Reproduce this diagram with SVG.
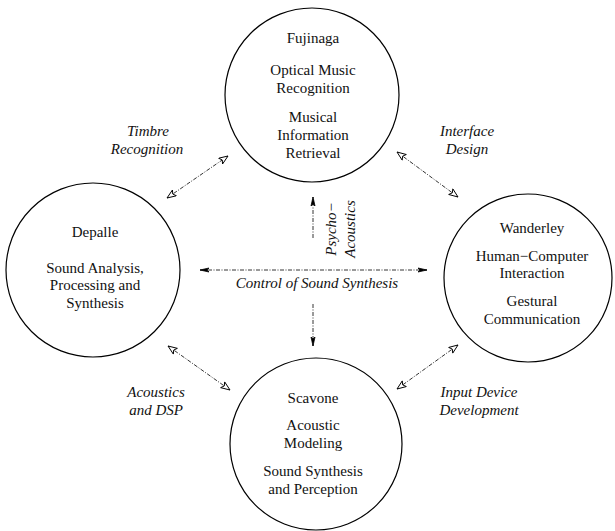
<svg xmlns="http://www.w3.org/2000/svg" width="615" height="531" viewBox="0 0 615 531">
<style>
.node{fill:none;stroke:#000;stroke-width:1.2}
.t{font-size:15px;fill:#111;text-anchor:middle}
.i{font-style:italic}
.c{fill:none;stroke:#000;stroke-width:0.8;stroke-dasharray:4 1.5 1 1.5}
</style>
<defs>
<marker id="oa" markerUnits="userSpaceOnUse" markerWidth="12" markerHeight="10" refX="10" refY="4" orient="auto-start-reverse">
<path d="M1,0.5 L10,4 L1,7.5 L3,4 Z" fill="#fff" stroke="#000" stroke-width="0.9"/>
</marker>
<marker id="na" markerUnits="userSpaceOnUse" markerWidth="12" markerHeight="8" refX="10" refY="3" orient="auto-start-reverse">
<path d="M1,1 L10,3 L1,5 L3,3 Z" fill="#000" stroke="#000" stroke-width="0.8"/>
</marker>
</defs>
<rect width="615" height="531" fill="#fff"/>
<g font-family="'Liberation Serif', 'Times New Roman', 'DejaVu Serif', serif">
<g id="connectors">
<line class="c" x1="167" y1="198" x2="228" y2="156" marker-start="url(#oa)" marker-end="url(#oa)"/>
<line class="c" x1="397" y1="152" x2="458" y2="197" marker-start="url(#oa)" marker-end="url(#oa)"/>
<line class="c" x1="168" y1="346" x2="230" y2="390" marker-start="url(#oa)" marker-end="url(#oa)"/>
<line class="c" x1="458" y1="345" x2="397" y2="389" marker-start="url(#oa)" marker-end="url(#oa)"/>
<line class="c" x1="200" y1="270" x2="427" y2="270" marker-start="url(#na)" marker-end="url(#na)"/>
<line class="c" x1="313" y1="238" x2="313" y2="197" marker-end="url(#na)"/>
<line class="c" x1="313" y1="304" x2="313" y2="346" marker-end="url(#na)"/>
<text class="t i" x="148" y="136">Timbre</text>
<text class="t i" x="147" y="154">Recognition</text>
<text class="t i" x="467" y="136">Interface</text>
<text class="t i" x="467" y="154">Design</text>
<text class="t i" x="156" y="397">Acoustics</text>
<text class="t i" x="156" y="415">and DSP</text>
<text class="t i" x="479" y="397">Input Device</text>
<text class="t i" x="479" y="415">Development</text>
<text class="t i" x="317" y="288">Control of Sound Synthesis</text>
<text class="t i" transform="translate(336,229) rotate(-90)">Psycho−</text>
<text class="t i" transform="translate(355,229) rotate(-90)">Acoustics</text>
</g>
<g id="fujinaga">
<circle class="node" cx="312" cy="95" r="87"/>
<text class="t" x="313" y="43">Fujinaga</text>
<text class="t" x="313" y="75">Optical Music</text>
<text class="t" x="313" y="93">Recognition</text>
<text class="t" x="313" y="122">Musical</text>
<text class="t" x="313" y="140">Information</text>
<text class="t" x="313" y="158">Retrieval</text>
</g>
<g id="depalle">
<circle class="node" cx="93" cy="270" r="87"/>
<text class="t" x="95" y="237">Depalle</text>
<text class="t" x="95" y="273">Sound Analysis,</text>
<text class="t" x="95" y="290">Processing and</text>
<text class="t" x="95" y="308">Synthesis</text>
</g>
<g id="wanderley">
<circle class="node" cx="528" cy="278" r="84"/>
<text class="t" x="532" y="233">Wanderley</text>
<text class="t" x="532" y="261">Human−Computer</text>
<text class="t" x="532" y="278">Interaction</text>
<text class="t" x="532" y="306">Gestural</text>
<text class="t" x="532" y="324">Communication</text>
</g>
<g id="scavone">
<circle class="node" cx="316" cy="444" r="86"/>
<text class="t" x="313" y="403">Scavone</text>
<text class="t" x="313" y="430">Acoustic</text>
<text class="t" x="313" y="448">Modeling</text>
<text class="t" x="313" y="476">Sound Synthesis</text>
<text class="t" x="313" y="494">and Perception</text>
</g>
</g>
</svg>
